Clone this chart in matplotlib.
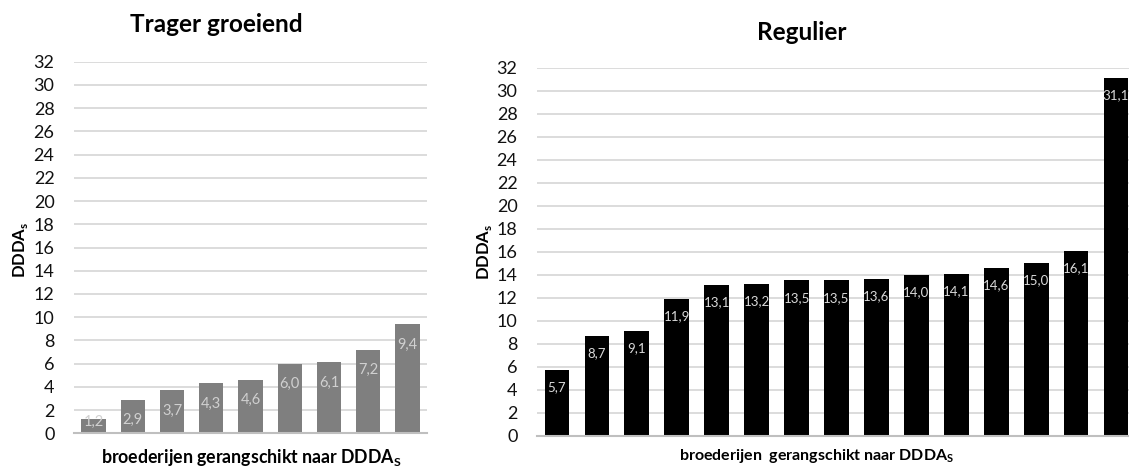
import numpy as np
import matplotlib.pyplot as plt

plt.rcParams['font.family'] = ['Lato', 'DejaVu Sans']
plt.rcParams['mathtext.fontset'] = 'custom'
plt.rcParams['mathtext.rm'] = 'Lato'
plt.rcParams['mathtext.bf'] = 'Lato:bold'

# data
trager = [1.2, 2.9, 3.7, 4.3, 4.6, 6.0, 6.1, 7.2, 9.4]
regulier = [5.7, 8.7, 9.1, 11.9, 13.1, 13.2, 13.5, 13.5, 13.6, 14.0, 14.1, 14.6, 15.0, 16.1, 31.1]
yticks = list(range(0, 33, 2))

W, H = 1129, 468
fig = plt.figure(figsize=(W / 100, H / 100), dpi=100)

ax1 = fig.add_axes([74 / W, 1 - 433.3 / H, 353 / W, 371.6 / H])
ax2 = fig.add_axes([537 / W, 1 - 435.7 / H, 599 / W, 368 / H])


def draw(ax, vals, color, lblcolor, lblsize, off):
    x = np.arange(len(vals))
    ax.bar(x, vals, width=0.62, color=color, zorder=2)
    for xi, v in zip(x, vals):
        yc = max(v - off, 1.0)
        ax.text(xi, yc, f'{v:.1f}'.replace('.', ','), ha='center', va='center',
                color=lblcolor, fontsize=lblsize, zorder=3)
    ax.set_xlim(-0.5, len(vals) - 0.5)
    ax.set_ylim(0, 32)
    ax.set_yticks(yticks)
    ax.set_xticks([])
    ax.grid(axis='y', color='#d9d9d9', linewidth=1.3, zorder=0)
    for s in ['top', 'right', 'left']:
        ax.spines[s].set_visible(False)
    ax.spines['bottom'].set_color('#bfbfbf')
    ax.spines['bottom'].set_linewidth(1.5)
    ax.spines['bottom'].set_zorder(4)
    ax.tick_params(axis='y', length=0, pad=14, labelsize=13, labelcolor='#111111')


draw(ax1, trager, '#7f7f7f', '#d0d0d0', 10.5, 1.75)
draw(ax2, regulier, '#000000', '#d9d9d9', 9.5, 1.5)

fig.text(216 / W, 1 - 24 / H, 'Trager groeiend', ha='center', va='center',
         fontsize=17.5, fontweight='bold')
fig.text(802 / W, 1 - 32 / H, 'Regulier', ha='center', va='center',
         fontsize=17.5, fontweight='bold')

fig.text(251 / W, 1 - 458 / H, r'broederijen gerangschikt naar DDDA$_\mathbf{S}$',
         ha='center', va='center', fontsize=12.8, fontweight='bold')
fig.text(817 / W, 1 - 456 / H, r'broederijen  gerangschikt naar DDDA$_\mathbf{S}$',
         ha='center', va='center', fontsize=11.5, fontweight='bold')

fig.text(21 / W, 1 - 250 / H, r'DDDA$_\mathbf{s}$', rotation=90, ha='center',
         va='center', fontsize=12, fontweight='bold')
fig.text(484 / W, 1 - 252 / H, r'DDDA$_\mathbf{s}$', rotation=90, ha='center',
         va='center', fontsize=12, fontweight='bold')

fig.savefig('out.png', dpi=100)
